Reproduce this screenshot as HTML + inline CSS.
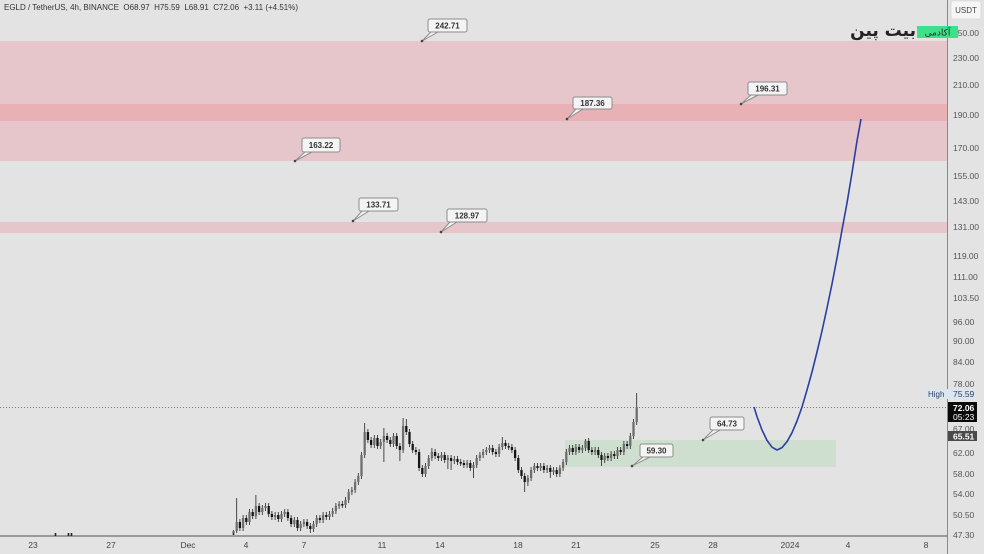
<!DOCTYPE html>
<html><head><meta charset="utf-8"><style>
html,body{margin:0;padding:0;background:#e3e3e3;}
svg{display:block;font-family:"Liberation Sans",sans-serif;}
</style></head><body>
<svg width="984" height="554" viewBox="0 0 984 554" xmlns="http://www.w3.org/2000/svg">
<rect x="0" y="0" width="984" height="554" fill="#e3e3e3"/>
<!-- zones -->
<rect x="0" y="41" width="947" height="120" fill="#e6c6ca"/>
<rect x="0" y="104" width="947" height="17" fill="#e9b0b6"/>
<rect x="0" y="222" width="947" height="11" fill="#e6c6ca"/>
<rect x="565" y="440" width="271" height="27" fill="#cfdfcf"/>
<!-- dotted price line -->
<line x1="0" y1="407.5" x2="947" y2="407.5" stroke="#555" stroke-width="0.8" stroke-dasharray="1,2"/>
<!-- axes -->
<line x1="947.5" y1="0" x2="947.5" y2="554" stroke="#8a8a8a" stroke-width="1"/>
<line x1="0" y1="536" x2="947" y2="536" stroke="#9a9a9a" stroke-width="2"/>
<!-- old tiny candles -->
<path d="M55.5 533V536M68.5 533V536M71.5 533V536M233.5 531V535" stroke="#222" stroke-width="1.6"/>
<!-- wicks -->
<path stroke="#222" stroke-width="0.8" fill="none" d="M233.5 530V535M236.7 498V533M239.9 519V531M243.1 515V531M246.3 515V525M249.5 509V525M252.7 509V519M255.9 495V519M259.1 503V515M262.3 505V515M265.5 503V511M268.7 503V517M271.9 511V520M275.1 512V520M278.3 512V522M281.5 511V522M284.7 509V517M287.9 509V521M291.1 515V527M294.3 517V527M297.5 517V531M300.7 521V531M303.9 519V527M307.1 519V529M310.3 523V533M313.5 521V532M316.7 515V527M319.9 515V523M323.1 512V523M326.3 512V520M329.5 511V520M332.7 508V517M335.9 503V514M339.1 501V509M342.3 501V508M345.5 497V508M348.7 489V503M351.9 487V495M355.1 479V493M358.3 473V485M361.5 452V479M364.7 423V458M367.9 429V443M371.1 437V448M374.3 435V448M377.5 435V449M380.7 439V449M383.9 428V462M387.1 433V443M390.3 437V447M393.5 433V447M396.7 433V449M399.9 443V461M403.1 418V453M406.3 419V435M409.5 429V447M412.7 441V453M415.9 447V455M419.1 449V471M422.3 465V477M425.5 463V477M428.7 455V469M431.9 448V461M435.1 449V459M438.3 453V461M441.5 452V461M444.7 452V463M447.9 455V469M451.1 455V470M454.3 456V464M457.5 456V465M460.7 459V466M463.9 460V468M467.1 460V468M470.3 460V471M473.5 462V478M476.7 455V468M479.9 452V461M483.1 449V458M486.3 447V455M489.5 445V453M492.7 445V455M495.9 449V457M499.1 444V457M502.3 437V450M505.5 440V449M508.7 443V450M511.9 444V453M515.1 447V461M518.3 455V473M521.5 467V479M524.7 473V492M527.9 475V486M531.1 467V481M534.3 463V473M537.5 463V471M540.7 463V471M543.9 463V473M547.1 465V473M550.3 465V478M553.5 467V475M556.7 467V477M559.9 465V477M563.1 459V471M566.3 449V465M569.5 445V455M572.7 445V455M575.9 444V455M579.1 444V453M582.3 445V453M585.5 439V451M588.7 438V453M591.9 447V455M595.1 447V455M598.3 447V458M601.5 452V466M604.7 453V463M607.9 453V461M611.1 451V461M614.3 451V459M617.5 447V459M620.7 447V455M623.9 441V455M627.1 441V449M630.3 433V449M633.5 419V439M636.7 393V425"/>
<!-- up bodies -->
<path stroke="#6e6e6e" stroke-width="2.3" fill="none" d="M233.5 533V531M236.7 531V522M243.1 528V518M249.5 522V512M255.9 516V506M262.3 512V508M265.5 508V506M275.1 517V515M281.5 519V514M284.7 514V512M294.3 524V520M300.7 528V524M303.9 524V522M313.5 529V524M316.7 524V518M323.1 520V515M329.5 517V514M332.7 514V511M335.9 511V506M339.1 506V504M345.5 505V500M348.7 500V492M351.9 492V490M355.1 490V482M358.3 482V476M361.5 476V455M364.7 455V432M374.3 445V438M380.7 446V442M383.9 442V436M393.5 444V436M403.1 450V426M425.5 474V466M428.7 466V458M431.9 458V452M441.5 458V455M447.9 460V458M454.3 461V459M467.1 465V463M473.5 468V465M476.7 465V458M479.9 458V455M483.1 455V452M486.3 452V450M489.5 450V448M499.1 454V447M502.3 447V443M527.9 482V478M531.1 478V470M534.3 470V466M540.7 468V466M547.1 470V468M553.5 472V470M559.9 474V468M563.1 468V462M566.3 462V452M569.5 452V448M575.9 452V447M582.3 450V448M585.5 448V441M595.1 452V450M604.7 460V456M611.1 458V454M617.5 456V450M623.9 452V444M630.3 446V436M633.5 436V422M636.7 422V407"/>
<!-- down bodies -->
<path stroke="#151515" stroke-width="2.3" fill="none" d="M239.9 522V528M246.3 518V522M252.7 512V516M259.1 506V512M268.7 506V514M271.9 514V517M278.3 515V519M287.9 512V518M291.1 518V524M297.5 520V528M307.1 522V526M310.3 526V529M319.9 518V520M326.3 515V517M342.3 504V505.5M367.9 432V440M371.1 440V445M377.5 438V446M387.1 436V440M390.3 440V444M396.7 436V446M399.9 446V450M406.3 426V432M409.5 432V444M412.7 444V450M415.9 450V452M419.1 452V468M422.3 468V474M435.1 452V456M438.3 456V458M444.7 455V460M451.1 458V461M457.5 459V462M460.7 462V463.5M463.9 463V465M470.3 463V468M492.7 448V452M495.9 452V454M505.5 443V446M508.7 446V447.5M511.9 447V450M515.1 450V458M518.3 458V470M521.5 470V476M524.7 476V482M537.5 466V468M543.9 466V470M550.3 468V472M556.7 470V474M572.7 448V452M579.1 447V450M588.7 441V450M591.9 450V452M598.3 450V455M601.5 455V460M607.9 456V458M614.3 454V456M620.7 450V452M627.1 444V446"/>
<!-- projection curve -->
<polyline fill="none" stroke="#2a3f9f" stroke-width="1.6" stroke-linejoin="round" points="754,407 757,416.6 762,430 767,440.4 772,447.2 777,450 782,447.6 787,441.7 792,432.7 797,421 802,407 807,390 812,372 817,352 822,331 827,308 832,284 837,258 842,230 847,203 852,173 857,141 861,119"/>
<!-- callouts -->
<g fill="#f4f4f4" stroke="#8c8c8c" stroke-width="1">
<polygon points="431,32 438,32 422,41"/><rect x="428" y="19" width="39" height="13" rx="2"/>
<polygon points="576,109 583,109 567,119"/><rect x="573" y="97" width="39" height="12" rx="2"/>
<polygon points="305,152 312,152 295,161"/><rect x="302" y="138" width="38" height="14" rx="2"/>
<polygon points="751,95 758,95 741,104"/><rect x="748" y="82" width="39" height="13" rx="2"/>
<polygon points="362,211 369,211 353,221"/><rect x="359" y="198" width="39" height="13" rx="2"/>
<polygon points="450,222 457,222 441,232"/><rect x="447" y="209" width="40" height="13" rx="2"/>
<polygon points="713,430 720,430 703,440"/><rect x="710" y="417" width="34" height="13" rx="2"/>
<polygon points="643,457 650,457 632,466"/><rect x="640" y="444" width="33" height="13" rx="2"/>
</g>
<g fill="#444">
<circle cx="422" cy="41" r="1.3"/><circle cx="567" cy="119" r="1.3"/><circle cx="295" cy="161" r="1.3"/><circle cx="741" cy="104" r="1.3"/><circle cx="353" cy="221" r="1.3"/><circle cx="441" cy="232" r="1.3"/><circle cx="703" cy="440" r="1.3"/><circle cx="632" cy="466" r="1.3"/>
</g>
<g font-size="8" font-weight="bold" fill="#333" text-anchor="middle">
<text x="447.5" y="28.5">242.71</text>
<text x="592.5" y="106">187.36</text>
<text x="321" y="148">163.22</text>
<text x="767.5" y="91.5">196.31</text>
<text x="378.5" y="207.5">133.71</text>
<text x="467" y="218.5">128.97</text>
<text x="727" y="426.5">64.73</text>
<text x="656.5" y="453.5">59.30</text>
</g>
<!-- title -->
<text x="4" y="10" font-size="8.5" fill="#333" textLength="294" lengthAdjust="spacingAndGlyphs">EGLD / TetherUS, 4h, BINANCE&#160; O68.97&#160; H75.59&#160; L68.91&#160; C72.06&#160; +3.11 (+4.51%)</text>
<!-- USDT box -->
<rect x="951" y="1" width="30" height="18" rx="2" fill="#f6f6f6" stroke="#d0d0d0" stroke-width="0.6"/>
<text x="966" y="13" font-size="8" fill="#444" text-anchor="middle">USDT</text>
<!-- right axis labels -->
<g font-size="8.5" fill="#555">
<text x="953" y="36">250.00</text>
<text x="953" y="61">230.00</text>
<text x="953" y="88">210.00</text>
<text x="953" y="118">190.00</text>
<text x="953" y="151">170.00</text>
<text x="953" y="179">155.00</text>
<text x="953" y="204">143.00</text>
<text x="953" y="230">131.00</text>
<text x="953" y="259">119.00</text>
<text x="953" y="280">111.00</text>
<text x="953" y="301">103.50</text>
<text x="953" y="325">96.00</text>
<text x="953" y="344">90.00</text>
<text x="953" y="365">84.00</text>
<text x="953" y="387">78.00</text>
<text x="953" y="432">67.00</text>
<text x="953" y="456">62.00</text>
<text x="953" y="477">58.00</text>
<text x="953" y="497">54.00</text>
<text x="953" y="518">50.50</text>
<text x="953" y="538">47.30</text>
</g>
<!-- High label -->
<rect x="925" y="389" width="51" height="10" fill="#dce6f1"/>
<text x="928" y="397" font-size="8" fill="#2d3f5f">High</text>
<text x="953" y="397" font-size="8.5" fill="#2d3f5f">75.59</text>
<!-- current price -->
<rect x="948" y="402" width="29" height="20" fill="#0a0a0a"/>
<text x="953" y="411" font-size="8.5" font-weight="bold" fill="#fff">72.06</text>
<text x="953" y="420" font-size="8.5" fill="#fff">05:23</text>
<rect x="948" y="431" width="29" height="10" fill="#4a4a4a"/>
<text x="953" y="439.5" font-size="8.5" font-weight="bold" fill="#fff">65.51</text>
<!-- bottom axis labels -->
<g font-size="8.5" fill="#444" text-anchor="middle">
<text x="33" y="548">23</text>
<text x="111" y="548">27</text>
<text x="188" y="548">Dec</text>
<text x="246" y="548">4</text>
<text x="304" y="548">7</text>
<text x="382" y="548">11</text>
<text x="440" y="548">14</text>
<text x="518" y="548">18</text>
<text x="576" y="548">21</text>
<text x="655" y="548">25</text>
<text x="713" y="548">28</text>
<text x="790" y="548">2024</text>
<text x="848" y="548">4</text>
<text x="926" y="548">8</text>
</g>
<!-- logo -->
<rect x="917" y="26" width="41" height="12" fill="#3ee08a"/>
<text x="937.5" y="35.5" font-family="DejaVu Sans, sans-serif" font-size="9" fill="#1e2a22" text-anchor="middle">آکادمی</text>
<text x="916" y="36" font-family="DejaVu Sans, sans-serif" font-size="17" font-weight="bold" fill="#222" text-anchor="end">بیت پین</text>
</svg>
</body></html>
